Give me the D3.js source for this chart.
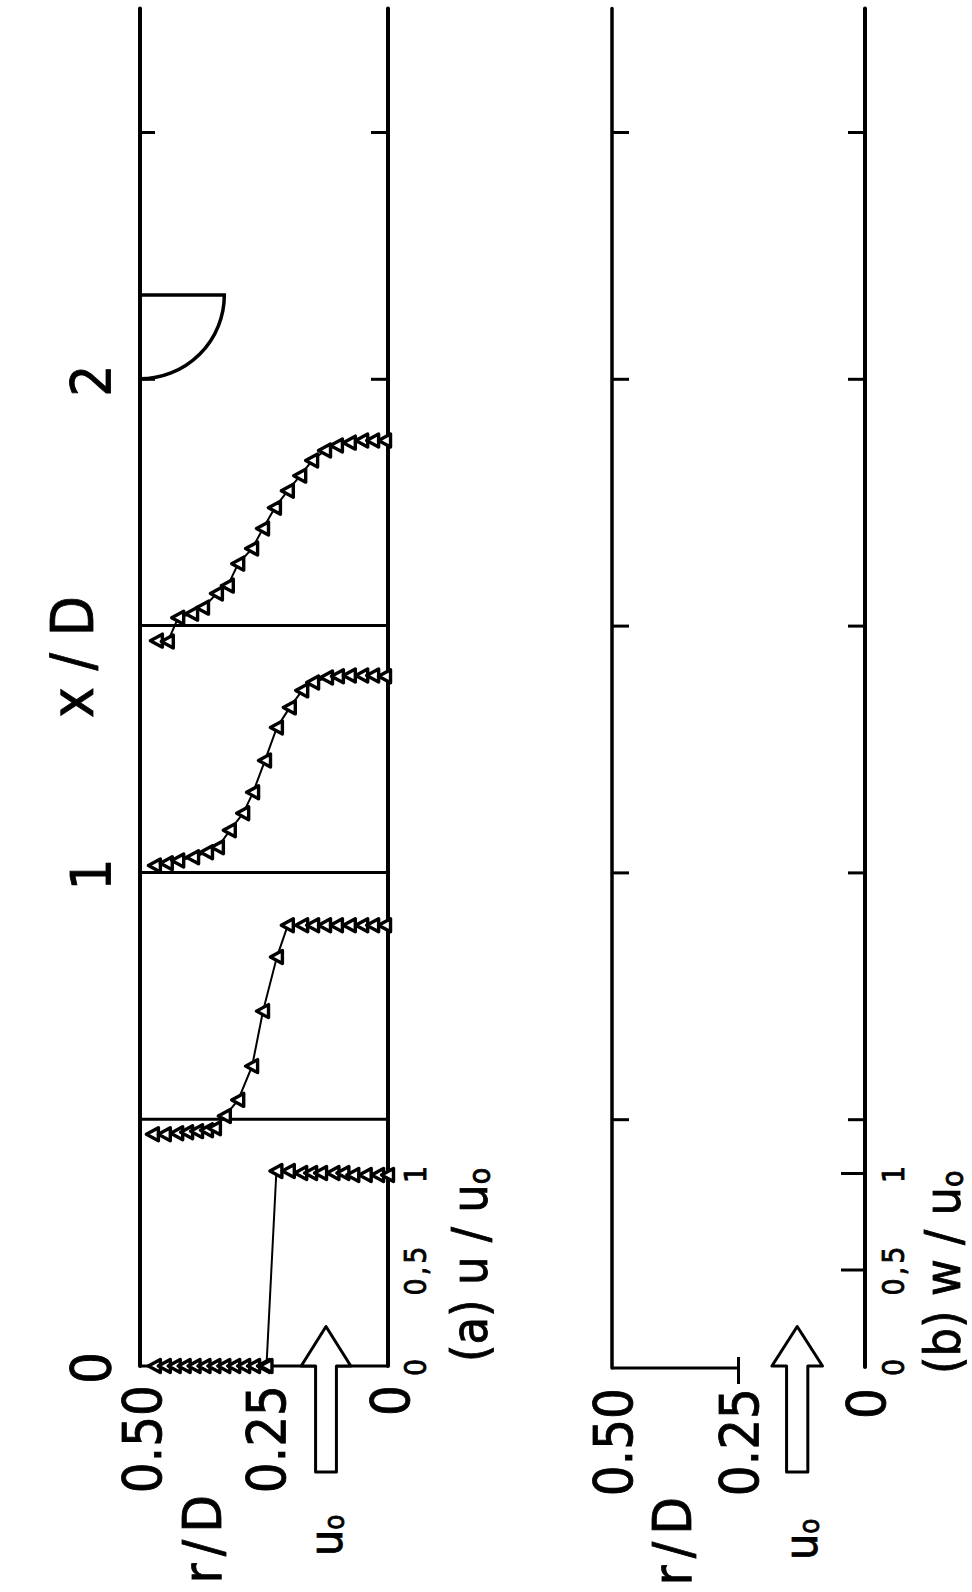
<!DOCTYPE html>
<meta charset="utf-8">
<style>
    body { margin: 0; background: #fff; }
    text {
        font-family: "DejaVu Sans", sans-serif;
        font-stretch: condensed;
        fill: #000;
        stroke: #000;
        stroke-width: 0.8;
    }
    .wall { stroke: #000; stroke-width: 4; fill: none; stroke-linecap: round; }
    .station { stroke: #000; stroke-width: 3; fill: none; }
    .profile { stroke: #000; stroke-width: 2; fill: none; }
    .tick line { stroke: #000; stroke-width: 3; }
    .marker { stroke: #000; stroke-width: 3.4; fill: #fff; stroke-linejoin: round; }
</style>
<body>
<script src="https://cdn.jsdelivr.net/npm/d3@7"></script>
<script>

    var width = 972,
        height = 1592;

    // x/D stations where u/u0 profiles were measured
    var stations = [0, 0.5, 1.0, 1.5];

    // profile at x/D = 0
    var r00 = [0.47, 0.45, 0.43, 0.41, 0.39, 0.37, 0.35, 0.33, 0.31, 0.29, 0.27, 0.25, 0.245,
               0.225, 0.20, 0.175, 0.155, 0.135, 0.11, 0.09, 0.07, 0.045, 0.02, 0.0];
    var u00 = [0, 0, 0, 0, 0, 0, 0, 0, 0, 0, 0, 0, 0,
               1.01, 1.01, 1.0, 1.0, 1.0, 1.0, 1.0, 0.99, 0.99, 0.99, 0.99];

    // profile at x/D = 0.5
    var r05 = [0.474, 0.45, 0.425, 0.405, 0.385, 0.365, 0.349, 0.329, 0.302, 0.274, 0.252,
               0.224, 0.202, 0.173, 0.151, 0.127, 0.103, 0.077, 0.052, 0.030, 0.006];
    var u05 = [-0.078, -0.078, -0.073, -0.068, -0.062, -0.057, -0.047, 0.016, 0.10, 0.275, 0.56,
               0.84, 1.005, 1.005, 1.005, 1.005, 1.005, 1.005, 1.005, 1.005, 1.005];

    // profile at x/D = 1.0
    var r10 = [0.47, 0.446, 0.423, 0.393, 0.365, 0.343, 0.319, 0.292, 0.272, 0.248,
               0.224, 0.198, 0.173, 0.151, 0.123, 0.101, 0.077, 0.052, 0.030, 0.006];
    var u10 = [0.036, 0.047, 0.062, 0.078, 0.104, 0.13, 0.218, 0.306, 0.415, 0.58,
               0.751, 0.855, 0.943, 0.984, 1.01, 1.016, 1.02, 1.02, 1.02, 1.016];

    // profile at x/D = 1.5
    var r15 = [0.466, 0.444, 0.423, 0.395, 0.373, 0.345, 0.323, 0.302, 0.274, 0.252,
               0.228, 0.202, 0.177, 0.153, 0.127, 0.103, 0.077, 0.052, 0.030, 0.006];
    var u15 = [-0.078, -0.083, 0.041, 0.062, 0.093, 0.166, 0.207, 0.321, 0.399, 0.503,
               0.611, 0.699, 0.777, 0.855, 0.907, 0.933, 0.948, 0.959, 0.959, 0.959];

    var profilesR = [r00, r05, r10, r15],
        profilesU = [u00, u05, u10, u15];

    // tick labels
    var xTicks = [0, 1, 2];
    var xMinorTicks = [0.5, 1, 1.5, 2, 2.5];
    var rTicks = [0.5, 0.25, 0];
    var rTickLabels = ["0.50", "0.25", "0"];
    var velTicks = [0, 0.5, 1];
    var velTickLabels = ["0", "0,5", "1"];

    // obstacle (hemisphere) on the wall
    var bumpStart = 2.0, bumpRadius = 0.17;

    var xTop = 2.75;

    var x = d3.scaleLinear().domain([0, 2.5]).range([1366, 132]);
    var rA = d3.scaleLinear().domain([0, 0.5]).range([388, 140]);
    var rB = d3.scaleLinear().domain([0, 0.5]).range([865, 612]);
    var uLen = d3.scaleLinear().domain([0, 1]).range([0, 193]);
    var w = d3.scaleLinear().domain([0, 1]).range([x(0), x(0) - uLen(1)]);

    var svg = d3.select("body").append("svg")
        .attr("width", width)
        .attr("height", height);

    svg.append("rect").attr("width", width).attr("height", height).attr("fill", "#fff");

    function vtext(g, px, py, anchor, size, str) {
        return g.append("text")
            .attr("transform", "translate(" + px + "," + py + ") rotate(-90)")
            .attr("text-anchor", anchor)
            .attr("dominant-baseline", "central")
            .style("font-size", size + "px")
            .text(str);
    }

    function sub(t, str) {
        t.append("tspan").attr("dy", "0.3em").style("font-size", "0.6em").text(str);
    }

    // ---------- panel (a) ----------
    var a = svg.append("g");

    // walls
    a.append("line").attr("class", "wall")
        .attr("x1", rA(0.5)).attr("x2", rA(0.5)).attr("y1", x(xTop)).attr("y2", x(0));
    a.append("line").attr("class", "wall")
        .attr("x1", rA(0)).attr("x2", rA(0)).attr("y1", x(xTop)).attr("y2", x(0));

    // station lines
    a.selectAll(".station").data(stations).enter().append("line")
        .attr("class", "station")
        .attr("x1", rA(0.5)).attr("x2", rA(0))
        .attr("y1", function(d) { return x(d); })
        .attr("y2", function(d) { return x(d); });

    // ticks at x/D = 2, 2.5
    a.append("g").attr("transform", "translate(" + rA(0.5) + ",0)")
        .call(d3.axisRight(x).tickValues([2, 2.5]).tickSize(15).tickFormat(""))
        .call(function(g) { g.select(".domain").remove(); });
    a.append("g").attr("transform", "translate(" + rA(0) + ",0)")
        .call(d3.axisLeft(x).tickValues([2, 2.5]).tickSize(17).tickFormat(""))
        .call(function(g) { g.select(".domain").remove(); });

    // obstacle
    var bx0 = rA(0.5), by0 = x(bumpStart + bumpRadius),
        bx1 = rA(0.5 - bumpRadius), by1 = x(bumpStart),
        brad = bx1 - bx0;
    a.append("path").attr("class", "wall").style("stroke-width", 3.5)
        .attr("d", "M" + bx0 + "," + by0 + "L" + bx1 + "," + by0 +
            "A" + brad + "," + (by1 - by0) + " 0 0 1 " + bx0 + "," + by1);

    // profiles
    var line = d3.line()
        .x(function(d) { return rA(d.r); })
        .y(function(d) { return x(d.s) - uLen(d.u); });

    var marker = "M-6.5,0L5.5,-6.5L5.5,6.5Z";

    stations.forEach(function(s, i) {
        var pts = profilesR[i].map(function(r, j) { return {s: s, r: r, u: profilesU[i][j]}; });
        a.append("path").attr("class", "profile").attr("d", line(pts));
        a.selectAll(".m" + i).data(pts).enter().append("path")
            .attr("class", "marker m" + i)
            .attr("d", marker)
            .attr("transform", function(d) {
                return "translate(" + rA(d.r) + "," + (x(d.s) - uLen(d.u)) + ")";
            });
    });

    // inflow arrow
    function arrow(g, rs, cx) {
        var xc = rs(cx), hw = rs(0) - rs(0.05), sw = rs(0) - rs(0.021);
        var yb = x(0), ya = x(0.08), ys = x(-0.215);
        g.append("path")
            .attr("d", "M" + (xc - sw) + "," + ys + "L" + (xc - sw) + "," + yb +
                "L" + (xc - hw) + "," + yb + "L" + xc + "," + ya + "L" + (xc + hw) + "," + yb +
                "L" + (xc + sw) + "," + yb + "L" + (xc + sw) + "," + ys + "Z")
            .attr("fill", "#fff").attr("stroke", "#000").attr("stroke-width", 3)
            .attr("stroke-linejoin", "round");
    }
    arrow(a, rA, 0.125);

    // x/D axis labels
    xTicks.forEach(function(t) { vtext(svg, 90, x(t) + 2, "middle", 56, String(t)); });
    vtext(svg, 73, 657, "middle", 58, "x / D");

    // r/D labels (a)
    rTicks.forEach(function(t, i) { vtext(a, rA(t) + 2, 1385, "end", 54, rTickLabels[i]); });
    vtext(a, 202, 1495, "end", 54, "r / D").style("word-spacing", "-8px");
    var ua = vtext(a, 326, 1556, "start", 46, "u");
    sub(ua, "o");

    // u/u0 small labels
    velTicks.forEach(function(t, i) {
        vtext(a, 415, x(0) - uLen(t), "middle", 30, velTickLabels[i]).style("letter-spacing", "3px");
    });
    var la = vtext(a, 470, 1362, "start", 50, "(a) u / u");
    sub(la, "o");

    // ---------- panel (b) ----------
    var b = svg.append("g");

    b.append("line").attr("class", "wall").style("stroke-width", 3.5)
        .attr("x1", rB(0.5)).attr("x2", rB(0.5)).attr("y1", x(xTop)).attr("y2", x(0) + 2);
    b.append("line").attr("class", "wall").style("stroke-width", 4)
        .attr("x1", rB(0)).attr("x2", rB(0)).attr("y1", x(xTop)).attr("y2", x(0) + 1);
    b.append("line").attr("class", "station")
        .attr("x1", rB(0.5)).attr("x2", rB(0.25)).attr("y1", x(0) + 2).attr("y2", x(0) + 2);
    b.append("line").attr("class", "station")
        .attr("x1", rB(0.25)).attr("x2", rB(0.25)).attr("y1", x(0) - 9).attr("y2", x(0) + 18);

    b.append("g").attr("transform", "translate(" + rB(0.5) + ",0)")
        .call(d3.axisRight(x).tickValues(xMinorTicks).tickSize(17).tickFormat(""))
        .call(function(g) { g.select(".domain").remove(); });
    b.append("g").attr("transform", "translate(" + rB(0) + ",0)")
        .call(d3.axisLeft(x).tickValues(xMinorTicks).tickSize(17).tickFormat(""))
        .call(function(g) { g.select(".domain").remove(); });
    b.append("g").attr("transform", "translate(" + rB(0) + ",0)")
        .call(d3.axisLeft(w).tickValues([0.5, 1]).tickSize(24).tickFormat(""))
        .call(function(g) { g.select(".domain").remove(); });

    arrow(b, rB, 0.134);

    rTicks.forEach(function(t, i) { vtext(b, rB(t) + 1, 1388, "end", 54, rTickLabels[i]); });
    vtext(b, 672, 1497, "end", 54, "r / D").style("word-spacing", "-8px");
    var ub = vtext(b, 801, 1560, "start", 46, "u");
    sub(ub, "o");

    velTicks.forEach(function(t, i) {
        vtext(b, 893, w(t), "middle", 30, velTickLabels[i]).style("letter-spacing", "3px");
    });
    var lb = vtext(b, 943, 1374, "start", 50, "(b) w / u");
    sub(lb, "o");

</script>
